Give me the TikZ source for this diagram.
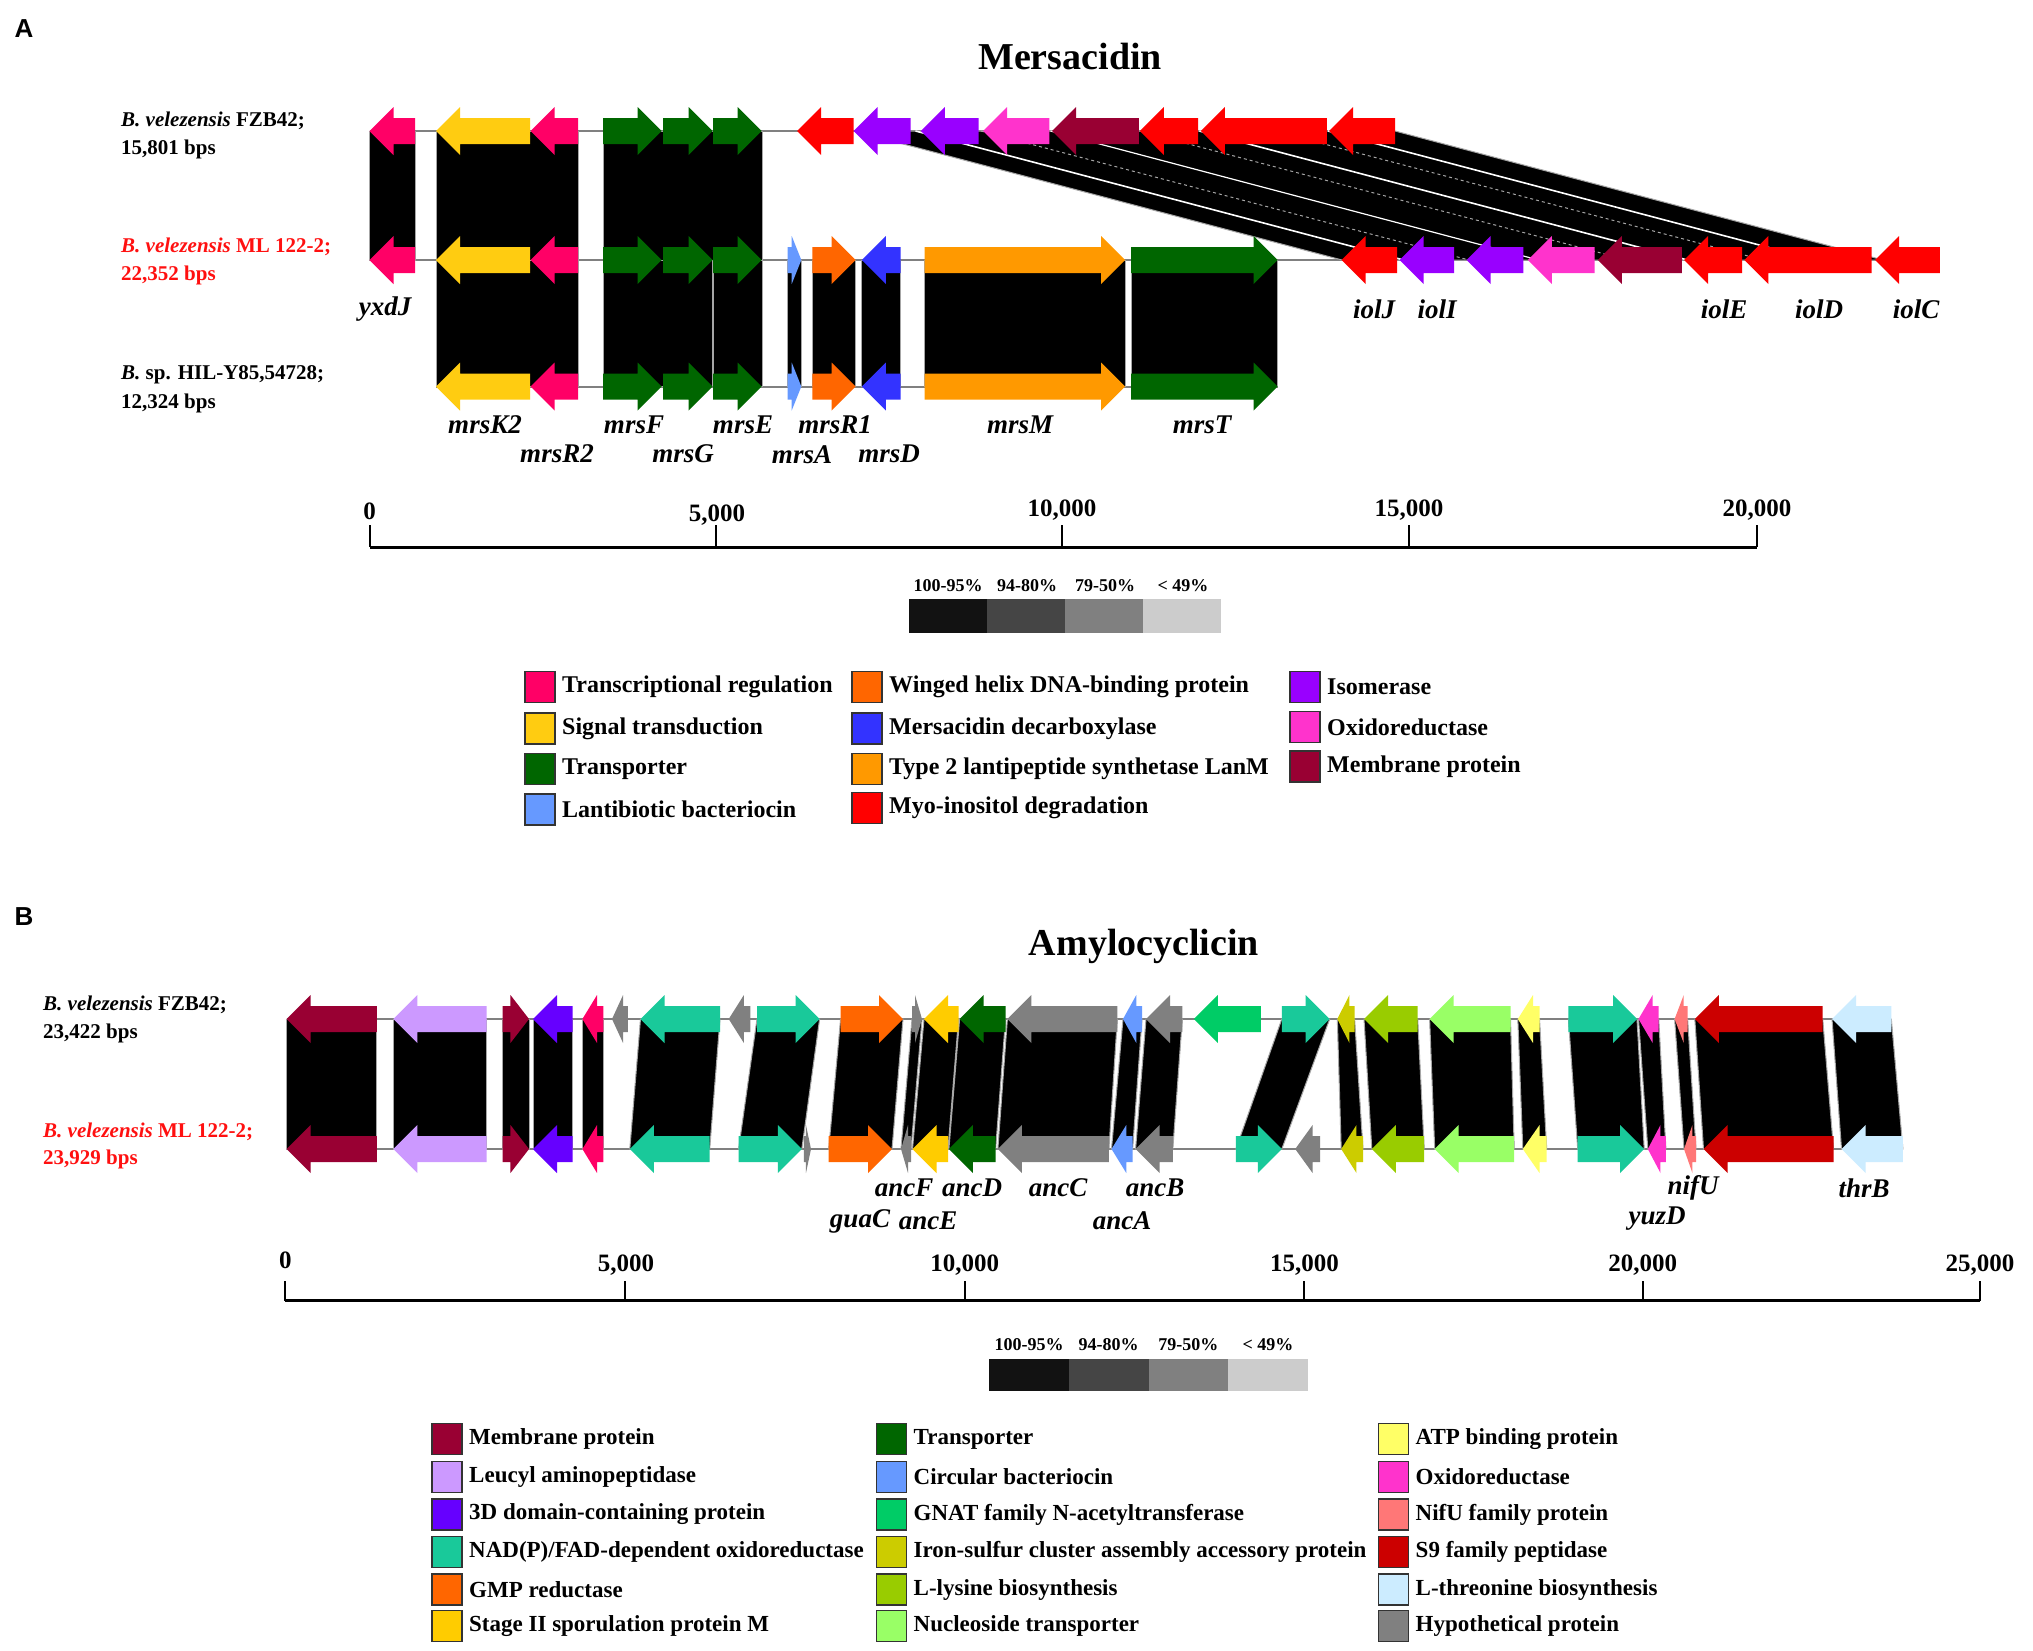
\documentclass[tikz,border=0pt]{standalone}
\usepackage{fontspec}
\setmainfont{Liberation Serif}
\newfontfamily\arialf{Liberation Sans}
\definecolor{tr}{HTML}{FF0066}
\definecolor{sig}{HTML}{FFCC11}
\definecolor{trn}{HTML}{006600}
\definecolor{lant}{HTML}{6699FF}
\definecolor{wing}{HTML}{FF6600}
\definecolor{mdec}{HTML}{3333FF}
\definecolor{lanm}{HTML}{FF9900}
\definecolor{myo}{HTML}{FF0000}
\definecolor{iso}{HTML}{9900FF}
\definecolor{oxr}{HTML}{FF33CC}
\definecolor{mem}{HTML}{990033}
\definecolor{leu}{HTML}{CC99FF}
\definecolor{tdd}{HTML}{6600FF}
\definecolor{nad}{HTML}{19C99A}
\definecolor{gmp}{HTML}{FF6600}
\definecolor{spo}{HTML}{FFCC00}
\definecolor{gnat}{HTML}{00CC66}
\definecolor{fes}{HTML}{CCCC00}
\definecolor{lys}{HTML}{99CC00}
\definecolor{nuc}{HTML}{99FF66}
\definecolor{atp}{HTML}{FFFF66}
\definecolor{nifu}{HTML}{FF7777}
\definecolor{sn}{HTML}{CC0000}
\definecolor{thr}{HTML}{CCECFF}
\definecolor{hyp}{HTML}{808080}
\definecolor{redlab}{HTML}{FF1010}
\def\legsize{24}
\tikzset{
  trklbl/.style={font=\fontsize{21}{24}\selectfont\bfseries, anchor=west, inner sep=0},
  gname/.style={font=\fontsize{27}{29}\selectfont\bfseries\itshape, inner sep=0},
  ticklbl/.style={font=\fontsize{25}{27}\selectfont\bfseries, inner sep=0},
  leg/.style={font=\fontsize{\legsize}{26}\selectfont\bfseries, anchor=west, inner sep=0},
  idl/.style={font=\fontsize{18}{20}\selectfont\bfseries, inner sep=0},
  titlest/.style={font=\fontsize{38}{40}\selectfont\bfseries, inner sep=0},
  panel/.style={font=\arialf\bfseries\fontsize{26}{28}\selectfont, inner sep=0},
  tline/.style={draw=gray, line width=2},
  bandst/.style={fill=black, draw=gray!70, line width=1},
  lbox/.style={draw=black!80, line width=1.5},
  scaleln/.style={line width=3},
  tickln/.style={line width=2},
}
% right-pointing gene: start, tip, y, colour
\newcommand\gr[4]{%
  \pgfmathsetmacro\hl{min(24,0.7*(#2-#1))}%
  \fill[#4] (#1,#3-13) -- (#2-\hl,#3-13) -- (#2-\hl,#3-24) -- (#2,#3) -- (#2-\hl,#3+24) -- (#2-\hl,#3+13) -- (#1,#3+13) -- cycle;}
% left-pointing gene: tip, end, y, colour
\newcommand\gl[4]{%
  \pgfmathsetmacro\hl{min(24,0.7*(#2-#1))}%
  \fill[#4] (#2,#3-13) -- (#1+\hl,#3-13) -- (#1+\hl,#3-24) -- (#1,#3) -- (#1+\hl,#3+24) -- (#1+\hl,#3+13) -- (#2,#3+13) -- cycle;}
% band: a1,b1,y1,a2,b2,y2
\newcommand\band[6]{\filldraw[bandst] (#1,#3) -- (#2,#3) -- (#5,#6) -- (#4,#6) -- cycle;}
% legend entry: x, y, colour, text, name
\newcommand\legent[5]{%
  \filldraw[lbox, fill=#3] (#1,#2-15.5) rectangle (#1+30,#2+15.5);
  \node[leg] (#5) at (#1+37,#2) {#4};}
\begin{document}
\begin{tikzpicture}[x=1pt,y=-1pt]
\useasboundingbox (0,0) rectangle (2033,1650);
\fill[white] (0,0) rectangle (2033,1650);

%================ PANEL A =================
\node[panel] (pA) at (24,29) {A};
\node[titlest] (tA) at (1070,56) {Mersacidin};

\node[trklbl] (a1a) at (121,121) {\itshape B. velezensis\upshape{} FZB42;};
\node[trklbl] (a1b) at (121,149) {15,801 bps};
\node[trklbl, text=redlab] (a2a) at (121,247) {\itshape B. velezensis\upshape{} ML 122-2;};
\node[trklbl, text=redlab] (a2b) at (121,275) {22,352 bps};
\node[trklbl] (a3a) at (121,375) {\itshape B.\upshape{} sp. HIL-Y85,54728;};
\node[trklbl] (a3b) at (121,403) {12,324 bps};

% track lines
\draw[tline] (369.5,131) -- (1395,131);
\draw[tline] (369.5,260) -- (1940,260);
\draw[tline] (436,386.5) -- (1277.6,386.5);

% bands track 1 -> 2
\band{369.5}{415}{131}{369.5}{415}{260}
\band{436}{578}{131}{436}{578}{260}
\band{603}{762}{131}{603}{762}{260}
\band{854}{1395}{131}{1342}{1883}{260}
\draw[white, line width=1.6] (915.5,131) -- (1403.5,260);
\draw[gray!70, line width=1, dashed] (981,131) -- (1469,260);
\draw[white, line width=1.2] (1050.5,131) -- (1538.5,260);
\draw[gray!70, line width=1, dashed] (1139.4,131) -- (1627.4,260);
\draw[white, line width=1.6] (1199.4,131) -- (1687.4,260);
\draw[gray!70, line width=1, dashed] (1275,131) -- (1763,260);
\draw[white, line width=1.6] (1328,131) -- (1816,260);

% bands track 2 -> 3
\band{436}{578}{260}{436}{578}{386.5}
\band{603}{712.7}{260}{603}{712.7}{386.5}
\band{713}{762}{260}{713}{762}{386.5}
\band{787.6}{801.3}{260}{787.6}{801.3}{386.5}
\band{812.3}{855.7}{260}{812.3}{855.7}{386.5}
\band{861.9}{900.5}{260}{861.9}{900.5}{386.5}
\band{924.6}{1125}{260}{924.6}{1125}{386.5}
\band{1131.2}{1277.6}{260}{1131.2}{1277.6}{386.5}

% track 1 genes
\gl{369.5}{415}{131}{tr}
\gl{436}{530}{131}{sig}
\gl{530.7}{578}{131}{tr}
\gr{603}{661.7}{131}{trn}
\gr{663}{712.7}{131}{trn}
\gr{713}{761.7}{131}{trn}
\gl{797.2}{853.7}{131}{myo}
\gl{853.7}{910.5}{131}{iso}
\gl{920.8}{978.7}{131}{iso}
\gl{983.2}{1049.3}{131}{oxr}
\gl{1052}{1138.8}{131}{mem}
\gl{1139.9}{1198}{131}{myo}
\gl{1200.8}{1326.9}{131}{myo}
\gl{1329}{1395.2}{131}{myo}

% track 2 genes
\gl{369.5}{415}{260}{tr}
\gl{436}{530}{260}{sig}
\gl{530.7}{578}{260}{tr}
\gr{603}{661.7}{260}{trn}
\gr{663}{712.7}{260}{trn}
\gr{713}{761.7}{260}{trn}
\gr{787.6}{801.3}{260}{lant}
\gr{812.3}{855.7}{260}{wing}
\gl{861.9}{900.5}{260}{mdec}
\gr{924.6}{1125}{260}{lanm}
\gr{1131.2}{1277.6}{260}{trn}
\gl{1341.6}{1397}{260}{myo}
\gl{1399.6}{1454.1}{260}{iso}
\gl{1466.6}{1523.3}{260}{iso}
\gl{1527.8}{1594.7}{260}{oxr}
\gl{1597.9}{1681.8}{260}{mem}
\gl{1684}{1742}{260}{myo}
\gl{1744.3}{1871.5}{260}{myo}
\gl{1875}{1939.8}{260}{myo}

% track 3 genes
\gl{436}{530}{386.5}{sig}
\gl{530.7}{578}{386.5}{tr}
\gr{603}{661.7}{386.5}{trn}
\gr{663}{712.7}{386.5}{trn}
\gr{713}{761.7}{386.5}{trn}
\gr{787.6}{801.3}{386.5}{lant}
\gr{812.3}{855.7}{386.5}{wing}
\gl{861.9}{900.5}{386.5}{mdec}
\gr{924.6}{1125}{386.5}{lanm}
\gr{1131.2}{1277.6}{386.5}{trn}

% gene names A
\node[gname] (yxdJ) at (385,309) {yxdJ};
\node[gname] (iolJ) at (1374,309) {iolJ};
\node[gname] (iolI) at (1437,309) {iolI};
\node[gname] (iolE) at (1724,309) {iolE};
\node[gname] (iolD) at (1819,309) {iolD};
\node[gname] (iolC) at (1916,309) {iolC};
\node[gname] (mrsK2) at (485,425) {mrsK2};
\node[gname] (mrsF) at (634,425) {mrsF};
\node[gname] (mrsE) at (743,425) {mrsE};
\node[gname] (mrsR1) at (835,425) {mrsR1};
\node[gname] (mrsM) at (1020,425) {mrsM};
\node[gname] (mrsT) at (1202,425) {mrsT};
\node[gname] (mrsR2) at (557,454) {mrsR2};
\node[gname] (mrsG) at (683,454) {mrsG};
\node[gname] (mrsA) at (802,455) {mrsA};
\node[gname] (mrsD) at (889,454) {mrsD};

% scale A
\draw[scaleln] (369.5,547) -- (1757,547);
\foreach \xx in {369.5,715.7,1062,1409.4,1757} \draw[tickln] (\xx,525) -- (\xx,547);
\node[ticklbl] (sa0) at (369.5,511) {0};
\node[ticklbl] (sa1) at (717,515) {5,000};
\node[ticklbl] (sa2) at (1062,510) {10,000};
\node[ticklbl] (sa3) at (1409,510) {15,000};
\node[ticklbl] (sa4) at (1757,510) {20,000};

% identity legend A
\fill[black!93] (909,599) rectangle (987,633);
\fill[black!73] (987,599) rectangle (1065,633);
\fill[black!50] (1065,599) rectangle (1143,633);
\fill[black!20] (1143,599) rectangle (1221,633);
\node[idl] (ia1) at (948,586) {100-95\%};
\node[idl] (ia2) at (1027,586) {94-80\%};
\node[idl] (ia3) at (1105,586) {79-50\%};
\node[idl] (ia4) at (1183,586) {< 49\%};

% legend A
\legent{525}{687}{tr}{Transcriptional regulation}{la1}
\legent{525}{728.5}{sig}{Signal transduction}{la2}
\legent{525}{769}{trn}{Transporter}{la3}
\legent{525}{809.5}{lant}{Lantibiotic bacteriocin}{la4}
\legent{852}{687}{wing}{Winged helix DNA-binding protein}{la5}
\legent{852}{728.5}{mdec}{Mersacidin decarboxylase}{la6}
\legent{852}{769}{lanm}{Type 2 lantipeptide synthetase LanM}{la7}
\legent{852}{808}{myo}{Myo-inositol degradation}{la8}
\legent{1290}{687}{iso}{Isomerase}{la9}
\legent{1290}{727}{oxr}{Oxidoreductase}{la10}
\legent{1290}{766.5}{mem}{Membrane protein}{la11}

%================ PANEL B =================
\def\legsize{23}
\node[panel] (pB) at (24,917) {B};
\node[titlest] (tB) at (1144,946) {Amylocyclicin};

\node[trklbl] (b1a) at (43,1005) {\itshape B. velezensis\upshape{} FZB42;};
\node[trklbl] (b1b) at (43,1033) {23,422 bps};
\node[trklbl, text=redlab] (b2a) at (43,1132) {\itshape B. velezensis\upshape{} ML 122-2;};
\node[trklbl, text=redlab] (b2b) at (43,1159) {23,929 bps};

\draw[tline] (286.6,1019) -- (1891.3,1019);
\draw[tline] (286.6,1149) -- (1902.9,1149);

% bands B
\band{286.6}{376.8}{1019}{286.6}{376.8}{1149}
\band{393.4}{486.7}{1019}{393.4}{486.7}{1149}
\band{502.5}{529}{1019}{502.5}{529}{1149}
\band{533}{572.5}{1019}{533}{572.5}{1149}
\band{582.4}{603.3}{1019}{582.4}{603.3}{1149}
\band{640.5}{720}{1019}{629.8}{709.7}{1149}
\band{757}{819.6}{1019}{738.6}{801.8}{1149}
\band{840.6}{903}{1019}{828.7}{892}{1149}
\band{912}{922}{1019}{901}{911}{1149}
\band{924}{958.5}{1019}{912.5}{948}{1149}
\band{959.6}{1005.5}{1019}{948.9}{995.6}{1149}
\band{1007.4}{1117.3}{1019}{997.9}{1108.9}{1149}
\band{1123}{1142}{1019}{1111.5}{1132.6}{1149}
\band{1146}{1182.3}{1019}{1135.6}{1172.8}{1149}
\band{1281.8}{1329.7}{1019}{1235.9}{1281.8}{1149}
\band{1337.3}{1354.6}{1019}{1341.2}{1363}{1149}
\band{1364}{1417.7}{1019}{1371.8}{1424.2}{1149}
\band{1429.6}{1510.5}{1019}{1434.7}{1514.2}{1149}
\band{1517.8}{1539.5}{1019}{1522.8}{1546.7}{1149}
\band{1568.4}{1637}{1019}{1577.7}{1644.2}{1149}
\band{1638.5}{1658.7}{1019}{1647.8}{1665.9}{1149}
\band{1674.6}{1687.6}{1019}{1684}{1696}{1149}
\band{1694.8}{1822.7}{1019}{1703.5}{1833.5}{1149}
\band{1832}{1891.3}{1019}{1841.5}{1902.9}{1149}

% track 1 genes B
\gl{286.6}{376.8}{1019}{mem}
\gl{393.4}{486.7}{1019}{leu}
\gr{502.5}{529}{1019}{mem}
\gl{533}{572.5}{1019}{tdd}
\gl{582.4}{603.3}{1019}{tr}
\gl{612}{627.8}{1019}{hyp}
\gl{640.5}{720}{1019}{nad}
\gl{728.7}{750.4}{1019}{hyp}
\gr{757}{819.6}{1019}{nad}
\gr{840.6}{903}{1019}{gmp}
\gr{912}{922}{1019}{hyp}
\gl{924}{958.5}{1019}{spo}
\gl{959.6}{1005.5}{1019}{trn}
\gl{1007.4}{1117.3}{1019}{hyp}
\gl{1123}{1142}{1019}{lant}
\gl{1146}{1182.3}{1019}{hyp}
\gl{1193.8}{1260.8}{1019}{gnat}
\gr{1281.8}{1329.7}{1019}{nad}
\gl{1337.3}{1354.6}{1019}{fes}
\gl{1364}{1417.7}{1019}{lys}
\gl{1429.6}{1510.5}{1019}{nuc}
\gl{1517.8}{1539.5}{1019}{atp}
\gr{1568.4}{1637}{1019}{nad}
\gl{1638.5}{1658.7}{1019}{oxr}
\gl{1674.6}{1687.6}{1019}{nifu}
\gl{1694.8}{1822.7}{1019}{sn}
\gl{1832}{1891.3}{1019}{thr}

% track 2 genes B
\gl{286.6}{376.8}{1149}{mem}
\gl{393.4}{486.7}{1149}{leu}
\gr{502.5}{529}{1149}{mem}
\gl{533}{572.5}{1149}{tdd}
\gl{582.4}{603.3}{1149}{tr}
\gl{629.8}{709.7}{1149}{nad}
\gr{738.6}{801.8}{1149}{nad}
\gr{803.8}{811}{1149}{hyp}
\gr{828.7}{892}{1149}{gmp}
\gl{901}{911}{1149}{hyp}
\gl{912.5}{948}{1149}{spo}
\gl{948.9}{995.6}{1149}{trn}
\gl{997.9}{1108.9}{1149}{hyp}
\gl{1111.5}{1132.6}{1149}{lant}
\gl{1135.6}{1172.8}{1149}{hyp}
\gr{1235.9}{1281.8}{1149}{nad}
\gl{1295.2}{1320}{1149}{hyp}
\gl{1341.2}{1363}{1149}{fes}
\gl{1371.8}{1424.2}{1149}{lys}
\gl{1434.7}{1514.2}{1149}{nuc}
\gl{1522.8}{1546.7}{1149}{atp}
\gr{1577.7}{1644.2}{1149}{nad}
\gl{1647.8}{1665.9}{1149}{oxr}
\gl{1684}{1696}{1149}{nifu}
\gl{1703.5}{1833.5}{1149}{sn}
\gl{1841.5}{1902.9}{1149}{thr}

% gene names B
\node[gname] (ancF) at (904,1188) {ancF};
\node[gname] (ancD) at (972,1188) {ancD};
\node[gname] (ancC) at (1058,1188) {ancC};
\node[gname] (ancB) at (1155,1188) {ancB};
\node[gname] (guaC) at (860,1221) {guaC};
\node[gname] (ancE) at (928,1221) {ancE};
\node[gname] (ancA) at (1122,1221) {ancA};
\node[gname] (nifU) at (1693,1188) {nifU};
\node[gname] (yuzD) at (1657,1219) {yuzD};
\node[gname] (thrB) at (1864,1188) {thrB};

% scale B
\draw[scaleln] (285.3,1300.5) -- (1980,1300.5);
\foreach \xx in {285.3,625,964.7,1304.4,1642.8,1980} \draw[tickln] (\xx,1281) -- (\xx,1300.5);
\node[ticklbl] (sb0) at (285.3,1260) {0};
\node[ticklbl] (sb1) at (626,1265.5) {5,000};
\node[ticklbl] (sb2) at (964.7,1265.5) {10,000};
\node[ticklbl] (sb3) at (1304.4,1265.5) {15,000};
\node[ticklbl] (sb4) at (1642.8,1265.5) {20,000};
\node[ticklbl] (sb5) at (1980,1265.5) {25,000};

% identity legend B
\fill[black!93] (989,1359) rectangle (1068.75,1391);
\fill[black!73] (1068.75,1359) rectangle (1148.5,1391);
\fill[black!50] (1148.5,1359) rectangle (1228.25,1391);
\fill[black!20] (1228.25,1359) rectangle (1308,1391);
\node[idl] (ib1) at (1029,1345) {100-95\%};
\node[idl] (ib2) at (1108.6,1345) {94-80\%};
\node[idl] (ib3) at (1188.4,1345) {79-50\%};
\node[idl] (ib4) at (1268,1345) {< 49\%};

% legend B
\legent{432}{1439}{mem}{Membrane protein}{lb1}
\legent{432}{1477}{leu}{Leucyl aminopeptidase}{lb2}
\legent{432}{1514.5}{tdd}{3D domain-containing protein}{lb3}
\legent{432}{1552}{nad}{NAD(P)/FAD-dependent oxidoreductase}{lb4}
\legent{432}{1589.5}{gmp}{GMP reductase}{lb5}
\legent{432}{1626}{spo}{Stage II sporulation protein M}{lb6}
\legent{876.5}{1439}{trn}{Transporter}{lb7}
\legent{876.5}{1477}{lant}{Circular bacteriocin}{lb8}
\legent{876.5}{1514.5}{gnat}{GNAT family N-acetyltransferase}{lb9}
\legent{876.5}{1552}{fes}{Iron-sulfur cluster assembly accessory protein}{lb10}
\legent{876.5}{1589.5}{lys}{L-lysine biosynthesis}{lb11}
\legent{876.5}{1626}{nuc}{Nucleoside transporter}{lb12}
\legent{1378.5}{1439}{atp}{ATP binding protein}{lb13}
\legent{1378.5}{1477}{oxr}{Oxidoreductase}{lb14}
\legent{1378.5}{1514.5}{nifu}{NifU family protein}{lb15}
\legent{1378.5}{1552}{sn}{S9 family peptidase}{lb16}
\legent{1378.5}{1589.5}{thr}{L-threonine biosynthesis}{lb17}
\legent{1378.5}{1626}{hyp}{Hypothetical protein}{lb18}
\end{tikzpicture}
\end{document}
